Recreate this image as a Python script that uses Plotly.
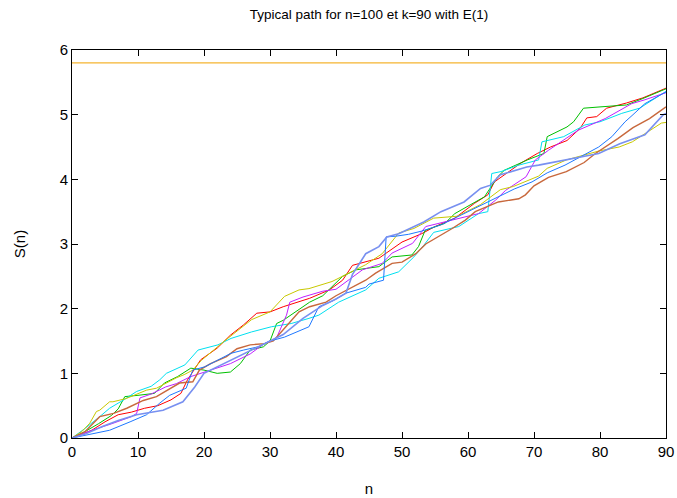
import plotly.graph_objects as go

# ---- data ----
red_n = [0,3,5,7,9,11,13,15,16.5,17.5,19.5,22,24,26,28,30,32,36,39,41,42.5,46.5,50,53,55,58,61,63,64,65.5,68,70.5,72.5,75,77,78,79.5,81,84,86.5,90]
red_s = [0,0.12,0.25,0.36,0.40,0.46,0.50,0.59,0.69,0.90,1.21,1.39,1.59,1.75,1.93,1.95,2.03,2.16,2.29,2.44,2.67,2.78,3.03,3.16,3.27,3.40,3.63,3.76,3.96,4.07,4.25,4.40,4.50,4.60,4.79,4.95,4.97,5.10,5.18,5.26,5.41]

green_n = [0,2,4,6,7,8,10,12.5,14,16,18,20,22,24,25.5,27,29,30,31,32,36,38,41,43,46.5,48.5,51.5,52.5,53.5,56.5,58,60,62.5,64.5,65.5,69,71.5,72,73,75,76,77.5,80,84,86.5,90]
green_s = [0,0.1,0.22,0.35,0.45,0.64,0.66,0.69,0.85,0.95,1.08,1.05,1.0,1.02,1.15,1.36,1.41,1.5,1.77,1.82,2.1,2.2,2.5,2.6,2.65,2.8,2.83,2.96,3.21,3.32,3.47,3.58,3.73,4.04,4.14,4.3,4.4,4.66,4.71,4.81,4.89,5.10,5.12,5.15,5.25,5.40]

cyan_n = [0,2,4.2,5.7,8,9.8,12,13.3,14.3,16.3,17.1,19.1,22.1,24.1,27.2,30.2,33.2,35.9,37.4,40.4,44.5,46.5,49.5,51.8,53.3,54.8,58.6,61.6,63,63.6,65,67.7,70.7,71.2,74.5,77.7,80,83.3,86,90]
cyan_s = [0,0.15,0.33,0.46,0.6,0.72,0.8,0.9,1.0,1.1,1.13,1.36,1.44,1.54,1.64,1.72,1.77,1.85,1.9,2.1,2.29,2.47,2.57,2.8,2.98,3.18,3.27,3.47,3.5,4.09,4.12,4.22,4.3,4.58,4.66,4.84,4.89,5.02,5.1,5.36]

magenta_n = [0,3,6,9,9.8,10.3,12,14.2,15.8,18,21,24,27,29,31,32.5,33,35,38,40,42,44,47,48.5,51.6,53.6,57.6,61.6,64.2,65.7,68.8,70.2,72.2,74.7,76.7,80.8,82.8,84.8,86.8,89.6,90]
magenta_s = [0,0.12,0.22,0.33,0.38,0.62,0.68,0.79,0.84,0.95,1.05,1.15,1.3,1.45,1.55,1.9,2.1,2.18,2.27,2.3,2.45,2.6,2.7,2.86,3.01,3.27,3.37,3.47,3.68,3.83,4.04,4.30,4.45,4.63,4.76,4.94,5.05,5.17,5.23,5.33,5.34]

yellow_n = [0,1.5,2.7,3.7,4.2,5.7,6.2,8.2,11.3,12.8,15.8,17,18.3,19.6,23.1,27.2,30,32.2,34.4,35.9,39.4,42,44.5,47,49.5,51.8,54.8,58.4,61.9,64.9,66.9,70.7,72,74.9,79.9,82.9,84.9,89.3,90]
yellow_s = [0,0.1,0.23,0.41,0.43,0.56,0.56,0.61,0.74,0.77,0.93,0.98,1.05,1.2,1.5,1.83,1.95,2.19,2.29,2.31,2.42,2.55,2.68,2.85,3.17,3.24,3.40,3.43,3.61,3.84,3.89,4.05,4.17,4.3,4.44,4.5,4.58,4.87,4.88]

brown_n = [0,2,4.2,6.3,8.3,10.8,12.8,15,16.3,18.3,19.3,21,23.4,25,27,29.2,30.5,32.4,34.4,36,38.5,40,42.5,44.5,46,48.5,50,52.1,53.6,55,57.6,59.6,61.1,64.6,67.7,68.7,70,72.2,74.9,77.6,79.3,82.7,85,87.5,89.6,90]
brown_s = [0,0.1,0.33,0.38,0.46,0.58,0.64,0.77,0.85,0.87,1.05,1.15,1.26,1.38,1.44,1.46,1.5,1.72,1.95,2.03,2.1,2.2,2.34,2.44,2.55,2.7,2.72,2.85,3.0,3.08,3.24,3.37,3.5,3.65,3.7,3.76,3.9,4.03,4.12,4.26,4.4,4.63,4.8,4.94,5.1,5.12]

blue_n = [0,2,5.7,8.8,11.3,13.3,14.8,17.3,18.3,20.1,22,24.1,26,28.2,30,32.2,35.9,37.4,39.5,41.5,44.5,45,47.2,47.6,49,51,53,56,59,62,64.7,67,69.7,72,74.7,77,79.8,81.8,83.8,85,86.8,89.6,90]
blue_s = [0,0.04,0.12,0.25,0.36,0.54,0.66,0.77,1.05,1.10,1.2,1.31,1.36,1.41,1.5,1.56,1.72,2.03,2.12,2.24,2.33,2.38,2.44,3.11,3.12,3.15,3.2,3.3,3.45,3.6,3.73,3.85,3.96,4.1,4.22,4.35,4.50,4.66,4.89,5.0,5.17,5.33,5.35]

slate_n = [0,2,4.7,7,9.8,12,13.8,16.8,18.6,20,23,26,29,32,35,38,40,41.5,42.5,44.5,46.5,47.7,49.5,51.8,53.3,55.9,59.4,61.9,63.4,64.9,68.9,70.7,75,79.8,83,86.8,89.6,90]
slate_s = [0,0.06,0.18,0.27,0.36,0.4,0.43,0.56,0.79,1.0,1.15,1.3,1.45,1.6,1.85,2.05,2.15,2.24,2.53,2.85,2.96,3.11,3.16,3.27,3.34,3.5,3.65,3.86,3.91,4.07,4.19,4.22,4.3,4.40,4.55,4.69,5.0,5.02]

limit_level = 5.80

series = [
    ("red", red_n, red_s, "#ff0000", 1),
    ("green", green_n, green_s, "#00c000", 1),
    ("cyan", cyan_n, cyan_s, "#00e0f0", 1),
    ("magenta", magenta_n, magenta_s, "#c020ff", 1),
    ("yellow", yellow_n, yellow_s, "#c8c800", 1),
    ("brown", brown_n, brown_s, "#c8683c", 1.4),
    ("blue", blue_n, blue_s, "#1e78ff", 1),
    ("slate", slate_n, slate_s, "#7890f0", 1.6),
]

fig = go.Figure()
for name, xs, ys, col, w in series:
    fig.add_trace(go.Scatter(x=xs, y=ys, mode="lines", name=name,
                             line=dict(color=col, width=w)))

fig.add_hline(y=limit_level, line=dict(color="#f5b430", width=1.2))

axis_common = dict(showline=True, linecolor="black", linewidth=1, mirror="ticks",
                   ticks="inside", ticklen=6, tickcolor="black", showgrid=False,
                   zeroline=False, automargin=False,
                   tickfont=dict(family="Liberation Sans", size=15, color="black"))

fig.update_layout(
    width=677, height=498,
    margin=dict(l=72, r=11, t=50, b=60),
    paper_bgcolor="white", plot_bgcolor="white",
    showlegend=False,
    font=dict(family="Liberation Sans", color="black"),
    title=dict(text="Typical path for n=100 et k=90 with E(1)", x=0.5, xref="paper",
               y=1 - 14 / 498, yref="container", yanchor="middle",
               font=dict(size=13.5, color="black")),
    xaxis=dict(range=[0, 90], tickvals=list(range(0, 91, 10)),
               title=dict(text="n", standoff=24, font=dict(size=15)), **axis_common),
    yaxis=dict(range=[0, 6], tickvals=list(range(0, 7)),
               title=dict(text="S(n)", standoff=30, font=dict(size=15)), **axis_common),
)

fig.write_html("out.html")
